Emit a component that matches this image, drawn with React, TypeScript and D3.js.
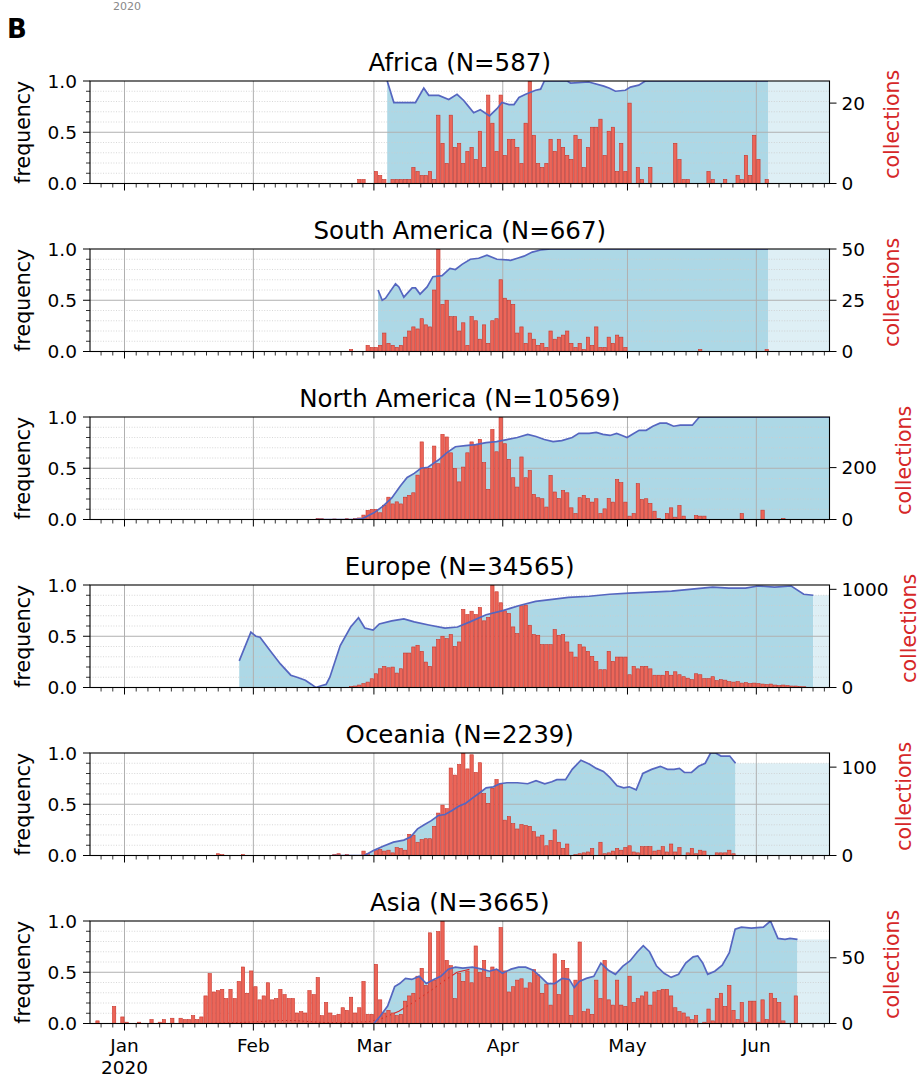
import React from "react";
import * as d3 from "d3";

// ---------- data ----------
const regions = ["Africa", "South America", "North America", "Europe", "Oceania", "Asia"];
const sampleSizes = [587, 667, 10569, 34565, 2239, 3665];
const countMax = [25.5, 50, 395, 1044, 116, 78];
const countTicks = [[0, 20], [0, 25, 50], [0, 200], [0, 1000], [0, 100], [0, 50]];
const freqTicks = [0, 0.5, 1];
const freqTickLabels = ["0.0", "0.5", "1.0"];

// daily collections; start = days since 2020-01-01
const africaStart = 56;
const africaCounts = [1,1,0,0, 3,2,1,0,1,1,1,1,1,4,3,2,2,3,1, 17,10,5,17,9,10,5,8,9,6,13,4,22,15,8,22,
  7,11,11,9,5,15,26,12,5,4,5,11,8,11,9,7,6,12,11,4,9,14,14,16,7,13,14,3,10,3,
  20,0,4,1,0,4,0,0,0,0,0,10,6,1,1,0,0,0,0,3,1,0,0,1,0,0,2,1,7,2,12,6,0,1];

const southAmericaStart = 54;
const southAmericaCounts = [1,0,0,0,3,2,
  2,3,9,4,3,2,3,7,10,12, 11,16,13,12,30,50,23,25,17,17, 10,14,3,17,15,6,13,4,15,16,
  35,26,25,23,9,12,4,9,6,3, 4,2,10,6,7,8,10,4,2,4, 1,7,3,12,2,2,7,4,8,7, 2,
  0,0,0,0,0,0,0,0,0,0,0,0,0,0,0,0,0, 1, 0,0,0,0,0,0,0,0,0,0,0,0,0,0,0, 1];

const northAmericaStart = 46;
const northAmericaCounts = [4,3,0,0,2,0,0,3,0,4,6, 17,35,39,
  39,26,55,86,60,68,60,86,93,103, 171,299,197,197,283,215,328,318,257,197,
  145,202,257,299,290,309,219,116,347,261, 395,292,232,161,125,241,161,189,97,84,
  80,48,170,106,81,112,103,45,23,84, 93,81,67,80,23,41,81,67,154,142,
  67,13,23,138,77,80,62,32,4,
  0,23,45,9,54,13,0,0,15,13,13, 0,0,0,0,0,0,0,0, 23, 0,0,0,0, 36, 0,0,0,0, 4];

const europeStart = 54;
const europeCounts = [10,15,25,40,55,89,
  140,191,215,201,208,147,191,351,351,413, 430,368,259,215,413,488,522,498,539,419,
  464,795,743,777,743,815,679,713,1044,975, 863,781,754,617,549,832,839,634,539,532,
  436,436,436,590,532,539,464,361,310,436, 413,368,317,266,181,181,368,266,310,310, 310,
  130,215,190,215,215,190,125,125,125,165, 125,160,130,110,95,80,140,130,90,90,
  110,70,80,75,60,55,60,45,50,40, 45,
  40,35,30,35,25,20,25,20,15,15,10,8];

const oceaniaStart = 22;
const oceaniaCounts = [2,1,0,0,0,0,1, 0,0,0,0,0,0,0,0,0,0,0,0,0,0,0,0,0,0,0,0,0,
  1,2,0,1,0,0,0,5,2,0,
  6,7,5,6,3,9,8,6,24,23, 15,18,19,19,33,48,57,53,99,91, 103,116,98,114,94,105,70,59,76,86,
  81,40,44,36,30,35,34,33,27,21, 23,11,17,29,15,8,13,0,1,2, 3,4,8,0,15,2,3,5,8,6,
  9,11,4,3,10,10,10,5,6,10, 4,13,4,9,0,3,8,2,6,5, 0,0,3,3,3,6,2];

const asiaStart = -7;
const asiaCounts = [2,0,0,0,13,0,5,
  1,0,0,1,0,0,3,0,1,3, 0,4,0,4,3,3,6,3,5,21, 38,24,25,26,19,26,19,32,43,23,
  40,28,18,21,31,18,19,26,22,19, 19,8,9,8,25,22,35,6,16,8, 6,7,12,10,20,8,12,32,7,7,
  45,18,8,10,8,6,7,17,21,23, 36,42,29,69,33,70,78,48,44,19, 38,32,40,31,59,39,48,35,43,41,
  73,40,24,28,33,34,27,31,41,37, 23,30,14,53,22,48,42,6,33,62, 9,11,7,33,19,48,18,14,33,14,
  13,36,16,19,21,24,14,24,25,26, 26,21,12,9,8,5,3,6,0,1, 11,2,19,23,13,29,10,3,16,1,
  17,17,1,18,3,23,19,16,2,0, 0,21];

// frequency curves: [day since 2020-01-01, frequency]
const africaFreq: [number, number][] = [[63.2,1.0],[64.8,0.79],[70,0.79],[72,0.93],[73.2,0.86],[75.6,0.86],[78,0.82],[80,0.87],[81.6,0.81],[82.8,0.75],[84,0.69],[85.6,0.72],[87.8,0.66],[89.6,0.73],[90.8,0.79],[92.5,0.77],[93.7,0.77],[94.9,0.84],[96.5,0.87],[98.9,0.91],[100.1,0.92],[101,1.0],[106.5,1.0],[107.3,0.98],[111.7,0.99],[115.3,0.95],[116.7,0.93],[118.1,0.9],[120.5,0.91],[121.7,0.94],[123.7,0.96],[125.3,1.0],[154.8,1.0]];
const southAmericaFreq: [number, number][] = [[61,0.6],[62,0.5],[62.8,0.52],[65.2,0.66],[66,0.63],[67.2,0.53],[69.2,0.62],[70,0.62],[71.1,0.56],[72.8,0.63],[74.2,0.73],[76.4,0.74],[78.3,0.81],[79.6,0.8],[81.2,0.85],[83.2,0.9],[85.2,0.91],[87.2,0.94],[89.6,0.9],[92.9,0.89],[94.5,0.91],[96.1,0.93],[98.1,0.97],[100.1,0.99],[102.5,1.0],[154.8,1.0]];
const northAmericaFreq: [number, number][] = [[46,0],[55,0],[57.3,0.01],[60,0.065],[62.2,0.13],[64.3,0.21],[66.4,0.33],[68,0.41],[69.7,0.45],[71.3,0.5],[73,0.51],[75.5,0.58],[77.5,0.65],[79.6,0.71],[82,0.72],[84.5,0.73],[87,0.75],[89.5,0.76],[92,0.78],[94.5,0.8],[97,0.83],[99,0.81],[101,0.78],[103.1,0.76],[105.2,0.77],[107.7,0.8],[109.3,0.84],[111.8,0.84],[113.5,0.85],[115.1,0.83],[116.8,0.82],[118.4,0.84],[119.7,0.82],[120.9,0.8],[122.1,0.83],[123.8,0.87],[125.5,0.87],[127.1,0.91],[128.8,0.94],[130.4,0.94],[132.1,0.91],[133.7,0.92],[136.6,0.92],[138.3,1.0],[169.7,1.0]];
const europeFreq: [number, number][] = [[27.6,0.26],[30.4,0.54],[31.6,0.5],[32.6,0.49],[35,0.36],[37.5,0.23],[40,0.12],[41.5,0.1],[43.5,0.07],[45,0.03],[46,0.0],[47.5,0.02],[48.5,0.03],[49.4,0.1],[51.9,0.41],[54.4,0.59],[56.3,0.68],[57.8,0.58],[59.8,0.56],[61.3,0.62],[64.3,0.65],[67.2,0.67],[69.7,0.64],[73.2,0.61],[77.1,0.58],[80.1,0.59],[83.1,0.64],[87,0.71],[91,0.75],[95,0.8],[98.9,0.84],[102.9,0.86],[106.8,0.88],[111.8,0.89],[116.7,0.91],[121.4,0.92],[126.6,0.93],[131.6,0.94],[136.5,0.96],[141.5,0.98],[145.4,0.97],[149.4,0.97],[152.4,0.99],[156.4,0.98],[160.4,0.99],[163.4,0.91],[165.7,0.9]];
const oceaniaFreq: [number, number][] = [[50,0],[57.7,0],[60,0.05],[62.2,0.09],[64.7,0.13],[67.2,0.15],[68.8,0.18],[70.5,0.26],[72.1,0.3],[73.8,0.34],[75.5,0.39],[77.1,0.4],[78.8,0.44],[80.4,0.48],[82.1,0.51],[83.7,0.56],[85.4,0.61],[87,0.66],[88.7,0.67],[90.3,0.7],[92,0.71],[94.5,0.71],[97,0.7],[99,0.73],[101.1,0.7],[102.8,0.72],[104,0.74],[106.1,0.74],[107.7,0.84],[109.8,0.93],[111.9,0.89],[113.5,0.85],[115.2,0.82],[116.8,0.76],[118.5,0.68],[120.1,0.66],[121.4,0.67],[123.1,0.64],[124.7,0.8],[126.8,0.84],[128.9,0.87],[130.6,0.84],[132.2,0.84],[133.5,0.85],[134.7,0.81],[136.4,0.81],[138.1,0.87],[139.7,0.9],[141,1.0],[142.2,1.0],[143.5,0.97],[145.6,0.97],[147,0.9]];
const asiaFreq: [number, number][] = [[60,0],[61.5,0.07],[63.3,0.17],[65,0.36],[66.2,0.39],[67.6,0.44],[69.1,0.43],[70.9,0.46],[72.6,0.39],[74.4,0.43],[76.1,0.46],[77.9,0.53],[79.6,0.55],[81.4,0.54],[83.7,0.55],[86,0.53],[87.8,0.51],[89.5,0.53],[90.9,0.49],[93,0.53],[94.8,0.55],[96.5,0.55],[98.3,0.52],[100,0.46],[101.8,0.39],[103.5,0.39],[105.3,0.44],[107,0.43],[108.2,0.35],[109.4,0.41],[111.1,0.44],[112.9,0.46],[114.6,0.59],[116.4,0.52],[118.1,0.48],[119.9,0.56],[121.6,0.61],[123.4,0.7],[124.8,0.76],[126.3,0.7],[128,0.56],[129.8,0.49],[131.5,0.45],[133.3,0.48],[135,0.59],[136.8,0.65],[137.9,0.66],[139.1,0.59],[140.3,0.48],[142,0.51],[143.8,0.57],[145.5,0.69],[146.9,0.92],[148.4,0.94],[150.8,0.93],[153.7,0.94],[155.4,1.0],[157.2,0.83],[158.9,0.82],[160.1,0.83],[161.9,0.82]];
const asiaSecondFreq: [number, number][] = [[19,0],[28,0.01],[33,0.02],[37,0.03],[41,0.03],[44,0.02],[48,0.01],[55,0.01],[59,0.02],[62,0.05],[66,0.12],[70,0.22],[74,0.33],[77,0.42],[80,0.5],[83,0.53]];

const starts = [africaStart, southAmericaStart, northAmericaStart, europeStart, oceaniaStart, asiaStart];
const counts = [africaCounts, southAmericaCounts, northAmericaCounts, europeCounts, oceaniaCounts, asiaCounts];
const freqs = [africaFreq, southAmericaFreq, northAmericaFreq, europeFreq, oceaniaFreq, asiaFreq];
const secondFreqs: ([number, number][] | null)[] = [null, null, null, null, null, asiaSecondFreq];

// ---------- chart ----------
const FONT = "DejaVu Sans";
const BAR_FILL = "#ec6558";
const BAR_STROKE = "#c8352b";
const FILL = "#add8e6";
const FUTURE = "#deeff5";
const LINE = "#5566c0";
const GRID = "#b0b0b0";
const MINOR_GRID = "#cdcdcd";
const RED = "#d62728";
const TICK_FS = 18.5;

export default function App() {
  const W = 922, H = 1082;
  const left = 90, right = 829.5;
  const firstTop = 81, step = 168, ph = 102.5;
  const x = d3.scaleLinear().domain([-8.3, 169.6]).range([left, right]);
  const [d0, d1] = x.domain();
  const base = Date.UTC(2020, 0, 1);
  const dayOf = (t: Date) => (t.getTime() - base) / 864e5;
  const monthStarts = d3.utcMonths(new Date(Date.UTC(2019, 11, 1)), new Date(Date.UTC(2020, 6, 2)));
  const major = monthStarts.filter((m) => dayOf(m) >= d0 && dayOf(m) <= d1);
  const minor: number[] = [];
  for (let i = 0; i < monthStarts.length - 1; i++) {
    const a = dayOf(monthStarts[i]), b = dayOf(monthStarts[i + 1]);
    for (let j = 1; j < 11; j++) {
      const v = a + ((b - a) * j) / 11;
      if (v >= d0 && v <= d1) minor.push(v);
    }
  }
  const fmt = d3.utcFormat("%b");
  const bw = x(0.8) - x(0);
  const minorFreq = d3.range(1, 10).map((v) => v / 10);

  return (
    <svg width={W} height={H} viewBox={`0 0 ${W} ${H}`} style={{ display: "block", background: "#fff", position: "absolute", left: 0, top: 0 }} fontFamily={FONT}>
      <rect width={W} height={H} fill="#fff" />
      <text x={127} y={10} fontSize={11} textAnchor="middle" fill="#888">2020</text>
      <text x={7} y={38} fontSize={26} fontWeight="bold" fill="#000">B</text>
      {regions.map((name, i) => {
        const top = firstTop + i * step;
        const bottom = top + ph;
        const yF = d3.scaleLinear().domain([0, 1]).range([bottom, top]);
        const yC = d3.scaleLinear().domain([0, countMax[i]]).range([bottom, top]);
        const fr = freqs[i];
        const area = d3.area<[number, number]>().x((d) => x(d[0])).y0(bottom).y1((d) => yF(d[1]));
        const line = d3.line<[number, number]>().x((d) => x(d[0])).y((d) => yF(d[1]));
        const last = fr[fr.length - 1];
        const clipId = `clip${i}`;
        const second = secondFreqs[i];
        const mid = (top + bottom) / 2;
        const maxTickChars = d3.max(countTicks[i], (v) => String(v).length) || 1;
        const labelX = Math.min(right + 12 + maxTickChars * 0.636 * TICK_FS + 27, 909);
        return (
          <g key={name}>
            <defs>
              <clipPath id={clipId}>
                <rect x={left} y={top} width={right - left} height={ph} />
              </clipPath>
            </defs>
            <g clipPath={`url(#${clipId})`}>
              <path d={area(fr) || ""} fill={FILL} />
              {last[0] < d1 && (
                <rect x={x(last[0])} y={yF(last[1])} width={right - x(last[0])} height={bottom - yF(last[1])} fill={FUTURE} />
              )}
              {minorFreq.filter((v) => v !== 0.5).map((v) => (
                <line key={v} x1={left} x2={right} y1={yF(v)} y2={yF(v)} stroke={MINOR_GRID} strokeWidth={0.8} strokeDasharray="1,1.6" />
              ))}
              <line x1={left} x2={right} y1={yF(0.5)} y2={yF(0.5)} stroke={GRID} strokeWidth={1} />
              {major.map((m) => (
                <line key={+m} x1={x(dayOf(m))} x2={x(dayOf(m))} y1={top} y2={bottom} stroke={GRID} strokeWidth={1} />
              ))}
              {second && <path d={line(second) || ""} fill="none" stroke={RED} strokeWidth={1.1} />}
              {counts[i].map((c, j) =>
                c > 0 ? (
                  <rect key={j} x={x(starts[i] + j + 0.5) - bw / 2} width={bw}
                    y={yC(Math.min(c, countMax[i]))} height={bottom - yC(Math.min(c, countMax[i]))}
                    fill={BAR_FILL} stroke={BAR_STROKE} strokeWidth={0.6} />
                ) : null
              )}
              <path d={line(fr) || ""} fill="none" stroke={LINE} strokeWidth={1.7} />
            </g>
            <rect x={left} y={top} width={right - left} height={ph} fill="none" stroke="#000" strokeWidth={1.1} />
            {/* left axis */}
            {freqTicks.map((v, k) => (
              <g key={v}>
                <line x1={left - 7} x2={left} y1={yF(v)} y2={yF(v)} stroke="#000" strokeWidth={1} />
                <text x={left - 13} y={yF(v)} dy="0.36em" fontSize={TICK_FS} textAnchor="end" fill="#000">{freqTickLabels[k]}</text>
              </g>
            ))}
            {minorFreq.filter((v) => v !== 0.5).map((v) => (
              <line key={v} x1={left - 4} x2={left} y1={yF(v)} y2={yF(v)} stroke="#000" strokeWidth={0.8} />
            ))}
            <text transform={`translate(${23},${mid}) rotate(-90)`} fontSize={20.5} textAnchor="middle" dy="0.36em" fill="#000">frequency</text>
            {/* right axis */}
            {countTicks[i].map((v) => (
              <g key={v}>
                <line x1={right} x2={right + 7} y1={yC(v)} y2={yC(v)} stroke="#000" strokeWidth={1} />
                <text x={right + 12} y={yC(v)} dy="0.36em" fontSize={TICK_FS} textAnchor="start" fill="#000">{v}</text>
              </g>
            ))}
            <text transform={`translate(${labelX},${mid - 8}) rotate(-90)`} fontSize={20.5} textAnchor="middle" dy="0.36em" fill={RED}>collections</text>
            {/* bottom axis */}
            {major.map((m) => (
              <line key={+m} x1={x(dayOf(m))} x2={x(dayOf(m))} y1={bottom} y2={bottom + 7} stroke="#000" strokeWidth={1} />
            ))}
            {minor.map((v) => (
              <line key={v} x1={x(v)} x2={x(v)} y1={bottom} y2={bottom + 4} stroke="#000" strokeWidth={0.8} />
            ))}
            {i === regions.length - 1 &&
              major.map((m, k) => (
                <g key={"l" + +m}>
                  <text x={x(dayOf(m))} y={bottom + 28} fontSize={TICK_FS} textAnchor="middle" fill="#000">{fmt(m)}</text>
                  {k === 0 && (
                    <text x={x(dayOf(m))} y={bottom + 50} fontSize={TICK_FS} textAnchor="middle" fill="#000">{d3.utcFormat("%Y")(m)}</text>
                  )}
                </g>
              ))}
            <text x={(left + right) / 2} y={top - 10} fontSize={24.5} textAnchor="middle" fill="#000">{`${name} (N=${sampleSizes[i]})`}</text>
          </g>
        );
      })}
    </svg>
  );
}
